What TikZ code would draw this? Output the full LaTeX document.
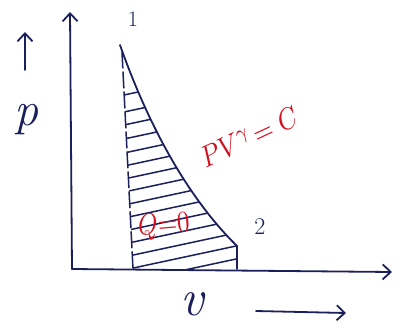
\documentclass[tikz,border=0pt]{standalone}
\usepackage{fix-cm}
\usetikzlibrary{arrows.meta}
\definecolor{ink}{HTML}{1B1F5C}
\definecolor{redink}{HTML}{D4101E}
\begin{document}
\begin{tikzpicture}[x=1pt,y=-1pt,
  inkline/.style={draw=ink,line width=1.8pt,line cap=round},
  hatchline/.style={draw=ink,line width=1.5pt,line cap=round},
  barb/.style={-{Straight Barb[length=8pt,width=15pt,line width=1.8pt]}},
  lbl/.style={text=ink,inner sep=0pt},
  redlbl/.style={text=redink,inner sep=0pt}]
\useasboundingbox (0,0) rectangle (410,333);
\fill[white] (0,0) rectangle (410,333);
% axes
\coordinate (O) at (72,269);
\coordinate (ytop) at (70,12);
\coordinate (xend) at (392,272);
\draw[inkline,barb] (O) -- (ytop);
\draw[inkline,barb] (O) -- (xend);
% states
\coordinate (s1) at (120,45);
\coordinate (s2) at (237,246);
\coordinate (d1) at (122,52);
\coordinate (d2) at (133,269);
\coordinate (f2) at (237,269);
% hatching
\begin{scope}
\clip (d1) -- (s1) .. controls (150,130) and (190,200) .. (s2) -- (f2) -- (d2) -- cycle;
\foreach \yy in {98,115,128,142,156,169,182,195,208,221,234,247,260,273,286}
  \draw[hatchline] (110,\yy) -- (250,\yy-30);
\end{scope}
\draw[hatchline,dash pattern=on 16pt off 4pt] (d1) -- (d2);
\draw[hatchline] (s2) -- (f2);
\draw[inkline] (s1) .. controls (150,130) and (190,200) .. (s2);
% labels
\node[lbl,font=\fontsize{22}{22}\selectfont] (n1) at (133,19) {1};
\node[lbl,font=\fontsize{24}{24}\selectfont] (n2) at (260,227) {2};
\node[lbl,font=\fontsize{48}{48}\selectfont\itshape] (p) at (27,120) {p};
\coordinate (pa) at (25,70);
\coordinate (pb) at (25,32);
\draw[inkline,barb] (pa) -- (pb);
\node[lbl,font=\fontsize{52}{52}\selectfont\itshape] (v) at (192,304) {v};
\coordinate (va) at (256,311);
\coordinate (vb) at (346,313);
\draw[inkline,barb] (va) -- (vb);
\node[redlbl,rotate=25] (law) at (249,137) {\scalebox{2.6}[3.0]{$PV^{\gamma}\!=C$}};
\node[redlbl,rotate=5] (q) at (164,226) {\scalebox{2.5}[3.0]{$Q{=}0$}};
\end{tikzpicture}
\end{document}
